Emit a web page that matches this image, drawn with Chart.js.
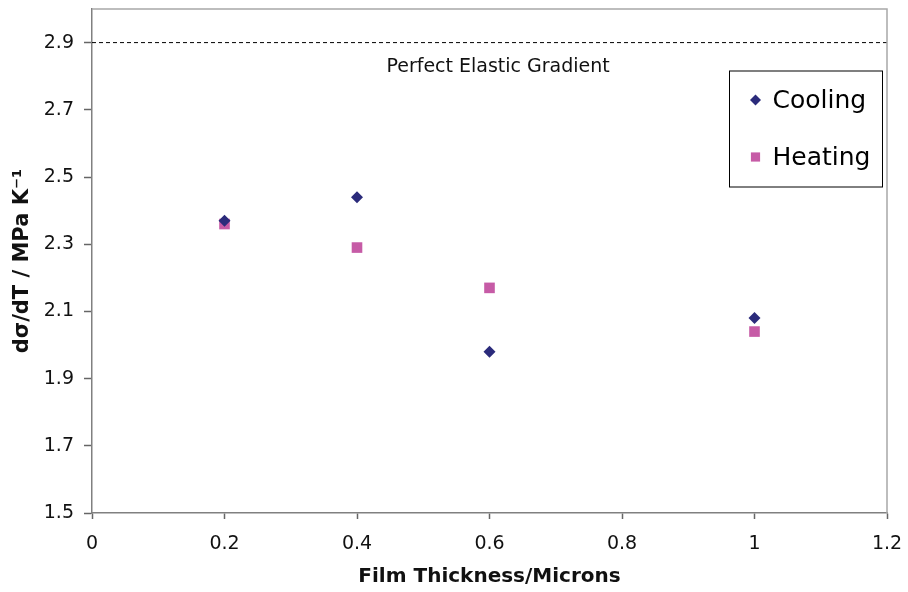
<!DOCTYPE html>
<html>
<head>
<meta charset="utf-8">
<script src="https://cdn.jsdelivr.net/npm/chart.js@4.4.1/dist/chart.umd.min.js"></script>
<style>
  html, body { margin: 0; padding: 0; background: #fff; }
  #wrap { width: 908px; height: 592px; }
</style>
</head>
<body>
<div id="wrap"><canvas id="stressChart"></canvas></div>
<script>
// film thickness (microns) and stress gradient values
const thickness = [0.2, 0.4, 0.6, 1.0];
const cooling = [2.37, 2.44, 1.98, 2.08];
const heating = [2.36, 2.29, 2.17, 2.04];
const elasticGradient = 2.9;
const xTicks = [0, 0.2, 0.4, 0.6, 0.8, 1, 1.2];
const yTicks = [1.5, 1.7, 1.9, 2.1, 2.3, 2.5, 2.7, 2.9];

const FONT = "'DejaVu Sans', Verdana, sans-serif";
const NAVY = '#2b2b7b';
const PINK = '#c65ba6';

const toPoints = ys => thickness.map((x, i) => ({ x: x, y: ys[i] }));

// frame + reference label + boxed legend
const extras = {
  id: 'extras',
  afterDatasetsDraw(chart) {
    const { ctx, chartArea: a, scales } = chart;
    ctx.save();
    ctx.strokeStyle = '#a8a8a8';
    ctx.lineWidth = 1.5;
    ctx.beginPath();
    ctx.moveTo(a.left, a.top);
    ctx.lineTo(a.right, a.top);
    ctx.lineTo(a.right, a.bottom);
    ctx.stroke();

    ctx.fillStyle = '#111';
    ctx.font = '19px ' + FONT;
    ctx.textAlign = 'center';
    ctx.textBaseline = 'middle';
    ctx.fillText('Perfect Elastic Gradient', scales.x.getPixelForValue(0.613), scales.y.getPixelForValue(2.828));

    // legend box
    const bx = 729.5, by = 71, bw = 153, bh = 116;
    ctx.fillStyle = '#fff';
    ctx.fillRect(bx, by, bw, bh);
    ctx.strokeStyle = '#000';
    ctx.lineWidth = 1;
    ctx.strokeRect(bx, by, bw, bh);
    const items = chart.data.datasets.filter(d => d.label);
    items.forEach((d, i) => {
      const cy = by + 29 + i * 57;
      ctx.fillStyle = d.backgroundColor;
      Chart.helpers.drawPoint(ctx, { pointStyle: d.pointStyle, radius: d.pointRadius - (d.pointStyle === 'rect' ? 1 : 0.5), borderWidth: 0, rotation: 0 }, bx + 26, cy);
      ctx.fillStyle = '#000';
      ctx.font = '25px ' + FONT;
      ctx.textAlign = 'left';
      ctx.fillText(d.label, bx + 43, cy + 1);
    });
    ctx.restore();
  }
};

new Chart(document.getElementById('stressChart'), {
  type: 'scatter',
  data: {
    datasets: [
      {
        label: 'Cooling',
        data: toPoints(cooling),
        pointStyle: 'rectRot',
        pointRadius: 6,
        backgroundColor: NAVY,
        borderColor: NAVY,
        borderWidth: 0
      },
      {
        label: 'Heating',
        data: toPoints(heating),
        pointStyle: 'rect',
        pointRadius: 7.5,
        backgroundColor: PINK,
        borderColor: PINK,
        borderWidth: 0
      },
      {
        type: 'line',
        label: '',
        data: [{ x: 0, y: elasticGradient }, { x: 1.2, y: elasticGradient }],
        borderColor: '#000',
        borderWidth: 1,
        borderDash: [4, 3],
        pointRadius: 0
      }
    ]
  },
  options: {
    responsive: true,
    maintainAspectRatio: false,
    animation: false,
    layout: { padding: { left: 0, right: 21, top: 9, bottom: 0 } },
    plugins: {
      legend: { display: false },
      tooltip: { enabled: false }
    },
    scales: {
      x: {
        type: 'linear',
        min: 0,
        max: 1.2,
        afterBuildTicks: s => { s.ticks = xTicks.map(v => ({ value: v })); },
        afterFit: s => { s.height = 79; s.paddingLeft = 0; s.paddingRight = 0; },
        ticks: {
          color: '#111',
          font: { family: FONT, size: 19 },
          padding: 14,
          callback: v => String(v)
        },
        grid: { drawOnChartArea: false, tickLength: 6, tickColor: '#666', tickWidth: 1.5 },
        border: { color: '#808080', width: 1.5 },
        title: {
          display: true,
          text: 'Film Thickness/Microns',
          color: '#111',
          font: { family: FONT, size: 20, weight: 'bold' },
          padding: { top: 3, bottom: 3 }
        }
      },
      y: {
        type: 'linear',
        min: 1.5,
        max: 3.0,
        afterBuildTicks: s => { s.ticks = yTicks.map(v => ({ value: v })); },
        afterFit: s => { s.width = 92; s.paddingTop = 0; s.paddingBottom = 0; },
        ticks: {
          color: '#111',
          font: { family: FONT, size: 19 },
          padding: 10,
          callback: v => v.toFixed(1)
        },
        grid: { drawOnChartArea: false, tickLength: 8, tickColor: '#666', tickWidth: 1.5 },
        border: { color: '#808080', width: 1.5 },
        title: {
          display: true,
          text: 'dσ/dT / MPa K⁻¹',
          color: '#111',
          font: { family: FONT, size: 21, weight: 'bold' },
          padding: { top: 10, bottom: 10 }
        }
      }
    }
  },
  plugins: [extras]
});
</script>
</body>
</html>
